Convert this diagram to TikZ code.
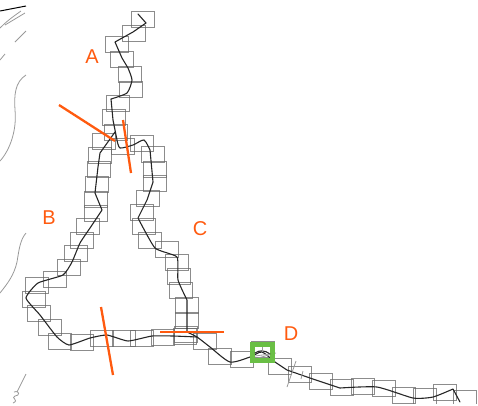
\documentclass[tikz,border=0pt]{standalone}
\usepackage{fontspec}
\setmainfont{Liberation Sans}
\definecolor{cut}{HTML}{FF5A0F}
\definecolor{mark}{HTML}{6ABF45}
\tikzset{
  cell/.style={draw=black!60,line width=1pt,opacity=.75},
  track/.style={draw=black!85,line width=1.1pt,line join=round,line cap=round},
  cutline/.style={draw=cut,line width=2.3pt},
  sketch/.style={draw=black!40,line width=0.8pt},
  lab/.style={text=cut,font=\fontsize{20}{20}\selectfont,inner sep=0pt,anchor=center}
}
\begin{document}
\begin{tikzpicture}[x=1pt,y=-1pt]
\useasboundingbox (0,0) rectangle (478,405);
\begin{scope}
\clip (0,0) rectangle (478,403);
\foreach \x/\y in {131/11,122/25,105/36,110/51,118/66,119/81,106/95,102/109,104/124,92/133,111/138,130/135,141/146,143/161,143/175,136/190,130/204,132/218,138/232,155/241,165/254,167/268,169/282,175/297,175/312,173/328,174/326,193/333,208/348,230/351,268/358,288/366,309/373,330/379,351/378,372/380,392/387,413/388,433/384,453/390,251/341,88/147,87/161,85/176,84/191,84/205,76/218,70/232,64/245,57/259,43/271,25/277,22/291,27/305,38/319,48/333,70/334,90/330,112/330,130/330,151/329}
  \draw[cell] (\x,\y) rectangle ++(23,16);
\end{scope}
% track
\draw[track] (138,14) -- (146,23) -- (133,32) -- (115,42) -- (122,58) -- (128,68) plot[smooth,tension=.35] coordinates {(128,68) (132,80) (127,93) (111,99)} -- (113,120) -- (117,140) plot[smooth,tension=.4] coordinates {(117,140) (120,148) (133,145) (144,140) (150,150)} -- (153,182) -- (147,200) -- (138,218) plot[smooth,tension=.3] coordinates {(138,218) (155,248) (177,257) (178,280) (187,300)} -- (187,332) plot[smooth,tension=.4] coordinates {(187,332) (197,337) (210,347) (230,362) (250,357) (262,352) (275,362) (287,370)} -- (310,378) -- (340,388) plot[smooth,tension=.35] coordinates {(340,388) (377,387) (413,398) (433,397) (453,389)} -- (460,402);
\draw[track] (115,132) -- (100,153) -- (98,167) -- (95,193) -- (102,210) plot[smooth,tension=.3] coordinates {(102,210) (90,228) (80,243) (72,262) (63,275) (38,283) (26,298) (40,315) (57,337) (69,345) (90,338) (107,335) (128,341) (152,336) (173,336) (197,337)};
% scribbles
\draw[black,line width=1pt] (0,11) -- (26,6);
\draw[sketch] (0,28) .. controls (8,20) and (14,16) .. (21,11);
\draw[sketch] (5,25) -- (25,13);
\draw[sketch] (15,42) -- (26,31);
\draw[sketch] (0,60) -- (5,54);
\draw[sketch] (26,75) .. controls (15,82) and (14,95) .. (15,110) .. controls (17,130) and (10,150) .. (0,161);
\draw[sketch] (26,233) .. controls (20,240) and (19,250) .. (17,262) .. controls (14,275) and (8,283) .. (0,293);
\draw[sketch] (26,374) -- (17,392);
\draw[sketch] (14,392) .. controls (20,390) and (20,396) .. (15,396) .. controls (10,398) and (20,400) .. (13,403);
\draw[sketch] (296,361) -- (287,387);
\draw[sketch] (303,371) -- (301,379);
\draw[sketch] (258,358) -- (276,353);
% cuts
\draw[cutline] (59,105) -- (115,141);
\draw[cutline] (123,120) -- (131,173);
\draw[cutline] (101,307) -- (113,375);
\draw[cutline] (160,332) -- (224,332);
% marker
\draw[draw=mark,line width=5pt] (252.5,344.5) rectangle (272.5,360.5);
\draw[track] (255,353) .. controls (259,350) and (265,350) .. (270,354);
\draw[sketch] (255,356) -- (270,354);
\draw[sketch] (262,347) -- (262,352);
% labels
\node[lab] (a) at (92,57) {A};
\node[lab] (b) at (49,218) {B};
\node[lab] (c) at (200,229) {C};
\node[lab] (d) at (291,334) {D};
\end{tikzpicture}
\end{document}
